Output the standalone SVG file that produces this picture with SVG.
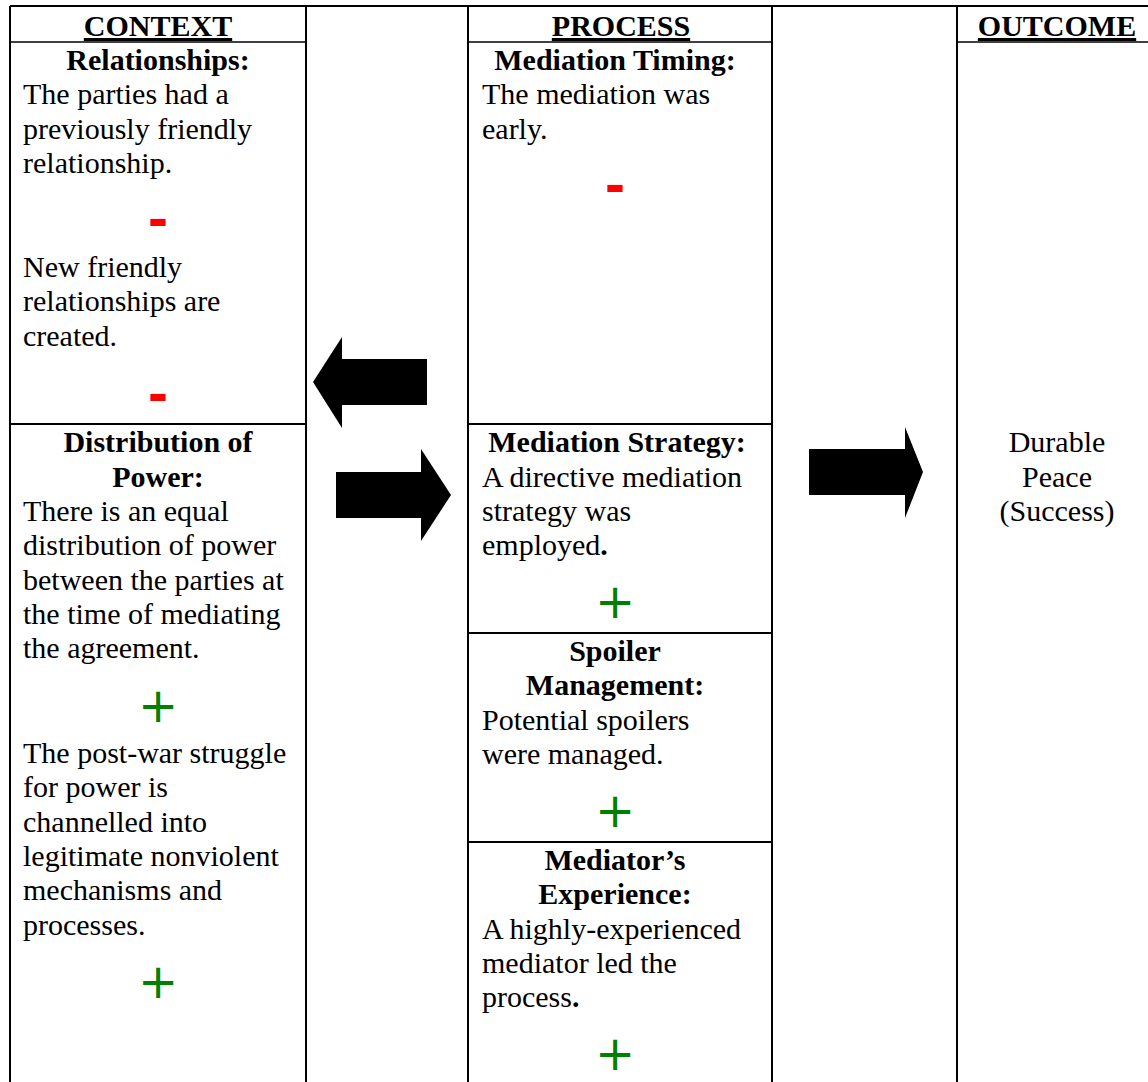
<svg xmlns="http://www.w3.org/2000/svg" width="1148" height="1082" viewBox="0 0 1148 1082">
<style>
text{font-family:"Liberation Serif","Times New Roman",serif;font-size:30px;fill:#000}
.h{font-weight:bold;text-anchor:middle;text-decoration:underline}
.b{font-weight:bold;text-anchor:middle}
.c{text-anchor:middle}
.minus{font-family:"Liberation Sans",Arial,sans-serif;font-weight:bold;font-size:60px;fill:#ff0000;text-anchor:middle}
.plus{font-family:"DejaVu Sans",sans-serif;font-size:48px;fill:#008000;text-anchor:middle}
.v{stroke:#000;stroke-width:2;fill:none}
.hl{stroke:#000;stroke-width:1.5;fill:none}
.arrow{fill:#000;stroke:none}
</style>
<rect width="1148" height="1082" fill="#fff"/>
<g id="grid">
<line class="v" x1="10" y1="6" x2="1148" y2="6"/>
<line class="v" x1="10" y1="6" x2="10" y2="1082"/>
<line class="v" x1="306" y1="6" x2="306" y2="1082"/>
<line class="v" x1="468" y1="6" x2="468" y2="1082"/>
<line class="v" x1="772" y1="6" x2="772" y2="1082"/>
<line class="v" x1="957" y1="6" x2="957" y2="1082"/>
<line class="hl" x1="10" y1="42" x2="306" y2="42"/>
<line class="hl" x1="468" y1="42" x2="772" y2="42"/>
<line class="hl" x1="957" y1="42" x2="1148" y2="42"/>
<line class="v" x1="10" y1="424" x2="306" y2="424"/>
<line class="v" x1="468" y1="424" x2="772" y2="424"/>
<line class="v" x1="468" y1="633" x2="772" y2="633"/>
<line class="v" x1="468" y1="842" x2="772" y2="842"/>
</g>
<g id="header-context"><text class="h" x="158" y="36">CONTEXT</text></g>
<g id="header-process"><text class="h" x="621" y="36">PROCESS</text></g>
<g id="header-outcome"><text class="h" x="1057" y="36">OUTCOME</text></g>
<g id="relationships">
<text class="b" x="158" y="70">Relationships:</text>
<text x="23" y="104">The parties had a</text>
<text x="23" y="139">previously friendly</text>
<text x="23" y="173">relationship.</text>
<text class="minus" x="158" y="238">-</text>
<text x="23" y="277">New friendly</text>
<text x="23" y="311">relationships are</text>
<text x="23" y="346">created.</text>
<text class="minus" x="158" y="413">-</text>
</g>
<g id="distribution-of-power">
<text class="b" x="158" y="452">Distribution of</text>
<text class="b" x="158" y="487">Power:</text>
<text x="23" y="521">There is an equal</text>
<text x="23" y="555">distribution of power</text>
<text x="23" y="590">between the parties at</text>
<text x="23" y="624">the time of mediating</text>
<text x="23" y="658">the agreement.</text>
<text class="plus" x="158" y="722">+</text>
<text x="23" y="763">The post-war struggle</text>
<text x="23" y="797">for power is</text>
<text x="23" y="832">channelled into</text>
<text x="23" y="866">legitimate nonviolent</text>
<text x="23" y="900">mechanisms and</text>
<text x="23" y="935">processes.</text>
<text class="plus" x="158" y="998">+</text>
</g>
<g id="mediation-timing">
<text class="b" x="615" y="70">Mediation Timing:</text>
<text x="482" y="104">The mediation was</text>
<text x="482" y="139">early.</text>
<text class="minus" x="615" y="204">-</text>
</g>
<g id="mediation-strategy">
<text class="b" x="617" y="452">Mediation Strategy:</text>
<text x="482" y="487">A directive mediation</text>
<text x="482" y="521">strategy was</text>
<text x="482" y="555">employed<tspan font-weight="bold">.</tspan></text>
<text class="plus" x="615" y="618">+</text>
</g>
<g id="spoiler-management">
<text class="b" x="615" y="661">Spoiler</text>
<text class="b" x="615" y="695">Management:</text>
<text x="482" y="730">Potential spoilers</text>
<text x="482" y="764">were managed.</text>
<text class="plus" x="615" y="827">+</text>
</g>
<g id="mediators-experience">
<text class="b" x="615" y="870">Mediator’s</text>
<text class="b" x="615" y="904">Experience:</text>
<text x="482" y="939">A highly-experienced</text>
<text x="482" y="973">mediator led the</text>
<text x="482" y="1007">process<tspan font-weight="bold">.</tspan></text>
<text class="plus" x="615" y="1070">+</text>
</g>
<g id="outcome">
<text class="c" x="1057" y="452">Durable</text>
<text class="c" x="1057" y="487">Peace</text>
<text class="c" x="1057" y="521">(Success)</text>
</g>
<g id="connectors">
<polygon class="arrow" points="313,382 342,337 342,359 427,359 427,405 342,405 342,428"/>
<polygon class="arrow" points="336,472 421,472 421,449 451,495 421,541 421,518 336,518"/>
<polygon class="arrow" points="809,449 905,449 905,427 923,472 905,518 905,495 809,495"/>
</g>
</svg>
